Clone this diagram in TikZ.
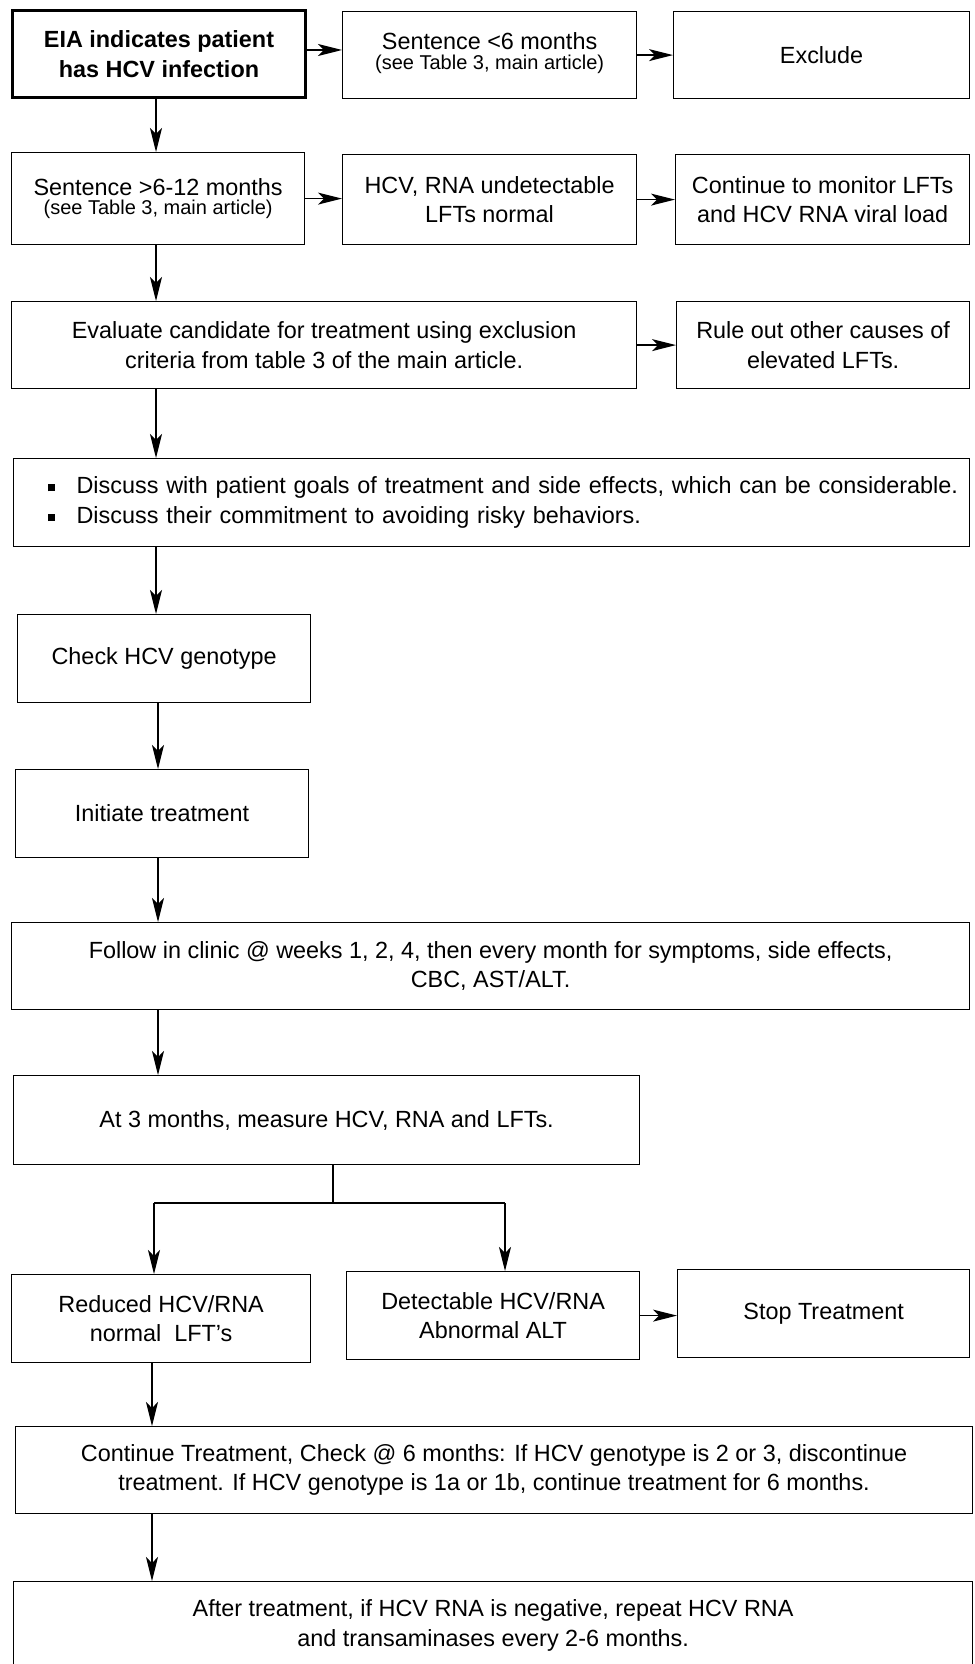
\documentclass[tikz,border=0pt]{standalone}
\usepackage{fontspec}
\setmainfont{Liberation Sans}
\usetikzlibrary{arrows.meta}
\newcommand\mainsz{\fontsize{11.7pt}{14.8pt}\selectfont}
\newcommand\smallsz{\fontsize{10pt}{11pt}\selectfont}
\newcommand\bul{\makebox[14.5pt][l]{\raisebox{1.2pt}{\rule{3.6pt}{3.6pt}}}}
\begin{document}
\begin{tikzpicture}[x=0.5pt,y=-0.5pt,
  box/.style={draw,line width=0.6pt,align=center,inner sep=0pt,anchor=north west,font=\mainsz},
  arr/.style={-{Stealth[length=12pt,width=6pt,inset=3pt]},line width=0.6pt},
  harr/.style={-{Stealth[length=12pt,width=6pt,inset=3pt]},line width=0.7pt}]
\useasboundingbox (0,0) rectangle (974,1664);
\fill[white] (0,0) rectangle (974,1664);

\node[box,line width=1.5pt,minimum width=146.5pt,minimum height=43.5pt,font=\mainsz\bfseries] (eia) at (11,9) {EIA indicates patient\\has HCV infection};
\node[box,minimum width=147pt,minimum height=43.5pt] (s6) at (342,11) {Sentence <6 months\\[-5pt]{\smallsz (see Table 3, main article)}\\[-10.5pt]};
\node[box,minimum width=148pt,minimum height=43.5pt] (excl) at (673,11) {Exclude};

\node[box,minimum width=146.5pt,minimum height=46pt] (s612) at (11,152) {Sentence >6-12 months\\[-5pt]{\smallsz (see Table 3, main article)}};
\node[box,minimum width=147pt,minimum height=45pt] (undet) at (342,154) {HCV, RNA undetectable\\LFTs normal};
\node[box,minimum width=147pt,minimum height=45pt] (mon) at (675,154) {Continue to monitor LFTs\\and HCV RNA viral load};

\node[box,minimum width=312.5pt,minimum height=43.5pt] (eval) at (11,301) {Evaluate candidate for treatment using exclusion\\criteria from table 3 of the main article.};
\node[box,minimum width=146.5pt,minimum height=43.5pt] (rule) at (676,301) {Rule out other causes of\\elevated LFTs.};

\node[box,align=left,text width=478pt,minimum height=44pt] (disc) at (13,458) {\hspace*{17pt}\bul Discuss with patient goals of treatment and side effects, which can be considerable.\\\hspace*{17pt}\bul Discuss their commitment to avoiding risky behaviors.};

\node[box,minimum width=146.5pt,minimum height=44pt] (geno) at (17,614) {Check HCV genotype};
\node[box,minimum width=146.5pt,minimum height=44pt] (init) at (15,769) {Initiate treatment};
\node[box,minimum width=479pt,minimum height=43.5pt] (follow) at (11,922) {Follow in clinic @ weeks 1, 2, 4, then every month for symptoms, side effects,\\CBC, AST/ALT.};
\node[box,minimum width=313pt,minimum height=44.5pt] (at3) at (13,1075) {At 3 months, measure HCV, RNA and LFTs.};

\node[box,minimum width=149.5pt,minimum height=44pt] (red) at (11,1274) {Reduced HCV/RNA\\normal\ \ LFT's};
\node[box,minimum width=146.5pt,minimum height=44pt] (det) at (346,1271) {Detectable HCV/RNA\\Abnormal ALT};
\node[box,minimum width=146pt,minimum height=44pt] (stop) at (677,1269) {Stop Treatment};

\node[box,minimum width=478.5pt,minimum height=43.5pt] (cont) at (15,1426) {Continue Treatment, Check @ 6 months: If HCV genotype is 2 or 3, discontinue\\treatment. If HCV genotype is 1a or 1b, continue treatment for 6 months.};
\node[box,minimum width=479.5pt,minimum height=44pt] (after) at (13,1581) {After treatment, if HCV RNA is negative, repeat HCV RNA\\and transaminases every 2-6 months.};

% horizontal arrows
\draw[harr] ([yshift=2pt]eia.east) -- ([yshift=2pt]eia.east -| s6.west);
\draw[harr] (s6.east) -- (s6.east -| excl.west);
\draw[harr] (s612.east) -- (s612.east -| undet.west);
\draw[harr] (undet.east) -- (undet.east -| mon.west);
\draw[harr] (eval.east) -- (eval.east -| rule.west);
\draw[harr] (det.east) -- (det.east -| stop.west);

% vertical arrows
\coordinate (cx) at (156,0);
\coordinate (cy) at (158,0);
\coordinate (cz) at (152,0);
\draw[arr] (eia.south -| cx) -- (s612.north -| cx);
\draw[arr] (s612.south -| cx) -- (eval.north -| cx);
\draw[arr] (eval.south -| cx) -- (disc.north -| cx);
\draw[arr] (disc.south -| cx) -- (geno.north -| cx);
\draw[arr] (geno.south -| cy) -- (init.north -| cy);
\draw[arr] (init.south -| cy) -- (follow.north -| cy);
\draw[arr] (follow.south -| cy) -- (at3.north -| cy);

% branch
\coordinate (bm) at (333,1203);
\coordinate (bl) at (154,1203);
\coordinate (bre) at (505,1203);
\draw[line width=0.6pt] (at3.south -| bm) -- (bm);
\draw[line width=0.6pt] (bl) -- (bre);
\draw[arr] (bl) -- (red.north -| bl);
\draw[arr] (bre) -- (det.north -| bre);

\draw[arr] (red.south -| cz) -- (cont.north -| cz);
\draw[arr] (cont.south -| cz) -- (after.north -| cz);
\end{tikzpicture}
\end{document}
